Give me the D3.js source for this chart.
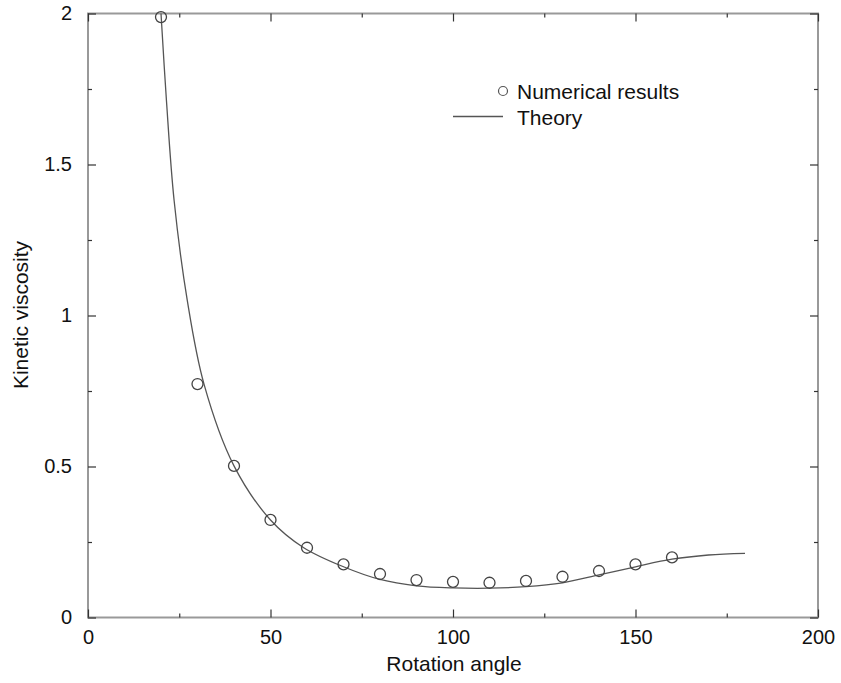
<!DOCTYPE html>
<html>
<head>
<meta charset="utf-8">
<script src="https://cdn.jsdelivr.net/npm/d3@7"></script>
<style>
  body { margin: 0; background: #fff; }
  svg text { font-family: "Liberation Sans", Arial, Helvetica, sans-serif; fill: #111; }
</style>
</head>
<body>
<svg id="chart" width="841" height="683"></svg>
<script>
// numerical results (circles)
const numAngle = [20, 30, 40, 50, 60, 70, 80, 90, 100, 110, 120, 130, 140, 150, 160];
const numVisc  = [1.988, 0.773, 0.502, 0.323, 0.231, 0.176, 0.144, 0.124, 0.118, 0.115, 0.121, 0.135, 0.154, 0.176, 0.199];

// theory curve
const theoryAngle = [20, 21.5, 23.6, 27.2, 31.8, 40, 50, 59, 70, 80, 90, 100, 110, 120, 130, 140, 150, 160, 170, 180];
const theoryVisc  = [2.0, 1.71, 1.38, 1.05, 0.772, 0.502, 0.323, 0.232, 0.168, 0.126, 0.105, 0.098, 0.097, 0.102, 0.115, 0.141, 0.168, 0.193, 0.207, 0.2125];

const xMajor = [0, 50, 100, 150, 200];
const xMinor = [25, 75, 125, 175];
const yMajor = [0, 0.5, 1, 1.5, 2];
const yMinor = [0.25, 0.75, 1.25, 1.75];

const legendLabels = ["Numerical results", "Theory"];

let svg = d3.select('#chart')

let x = d3.scaleLinear()
    .domain([0, 200])
    .range([88, 818])

let y = d3.scaleLinear()
    .domain([0, 2])
    .range([617.5, 13.5])

const fmt = d => d3.format('~g')(d)

function styleAxis(g, labels) {
	g.select('.domain').remove()
	g.selectAll('.tick line').attr('stroke', '#333').attr('stroke-width', 1.2)
	g.selectAll('.tick text').style('font-size', '20px')
	if (!labels) g.selectAll('.tick text').remove()
}

// frame
svg.append('rect')
	.attr('x', x(0))
	.attr('y', y(2))
	.attr('width', x(200) - x(0))
	.attr('height', y(0) - y(2))
	.attr('fill', 'none')
	.attr('stroke', '#999')
	.attr('stroke-width', 2)

// bottom
svg.append('g').attr('transform', `translate(0,${y(0)})`)
	.call(d3.axisBottom(x).tickValues(xMajor).tickSize(-8).tickPadding(12).tickFormat(fmt))
	.call(g => styleAxis(g, true))
svg.append('g').attr('transform', `translate(0,${y(0)})`)
	.call(d3.axisBottom(x).tickValues(xMinor).tickSize(-4))
	.call(g => styleAxis(g, false))
// top
svg.append('g').attr('transform', `translate(0,${y(2)})`)
	.call(d3.axisTop(x).tickValues(xMajor).tickSize(-8))
	.call(g => styleAxis(g, false))
svg.append('g').attr('transform', `translate(0,${y(2)})`)
	.call(d3.axisTop(x).tickValues(xMinor).tickSize(-4))
	.call(g => styleAxis(g, false))
// left
svg.append('g').attr('transform', `translate(${x(0)},0)`)
	.call(d3.axisLeft(y).tickValues(yMajor).tickSize(-8).tickPadding(16).tickFormat(fmt))
	.call(g => styleAxis(g, true))
svg.append('g').attr('transform', `translate(${x(0)},0)`)
	.call(d3.axisLeft(y).tickValues(yMinor).tickSize(-4))
	.call(g => styleAxis(g, false))
// right
svg.append('g').attr('transform', `translate(${x(200)},0)`)
	.call(d3.axisRight(y).tickValues(yMajor).tickSize(-8))
	.call(g => styleAxis(g, false))
svg.append('g').attr('transform', `translate(${x(200)},0)`)
	.call(d3.axisRight(y).tickValues(yMinor).tickSize(-4))
	.call(g => styleAxis(g, false))

// axis titles
svg.append('text')
	.attr('x', 454)
	.attr('y', 671)
	.attr('text-anchor', 'middle')
	.style('font-size', '21px')
	.text('Rotation angle')

svg.append('text')
	.attr('transform', 'translate(28,315) rotate(-90)')
	.attr('text-anchor', 'middle')
	.style('font-size', '21px')
	.text('Kinetic viscosity')

// theory line
let theory = theoryAngle.map((a, i) => ({angle: a, value: theoryVisc[i]}))
let line = d3.line()
	.x(d => x(d.angle))
	.y(d => y(d.value))
	.curve(d3.curveCatmullRom.alpha(0.5))

svg.append('path')
	.datum(theory)
	.attr('fill', 'none')
	.attr('stroke', '#555')
	.attr('stroke-width', 1.3)
	.attr('d', line)

// numerical circles
let nums = numAngle.map((a, i) => ({angle: a, value: numVisc[i]}))
svg.append('g').selectAll('circle')
	.data(nums)
	.enter().append('circle')
	.attr('cx', d => x(d.angle))
	.attr('cy', d => y(d.value))
	.attr('r', 5.5)
	.attr('fill', 'none')
	.attr('stroke', '#444')
	.attr('stroke-width', 1.3)

// legend
let legend = svg.append('g')
legend.append('circle')
	.attr('cx', 503).attr('cy', 91).attr('r', 4.5)
	.attr('fill', 'none').attr('stroke', '#555').attr('stroke-width', 1.2)
legend.append('text')
	.attr('x', 517).attr('y', 98.5)
	.style('font-size', '21px')
	.text(legendLabels[0])
legend.append('line')
	.attr('x1', 453).attr('x2', 503).attr('y1', 116.5).attr('y2', 116.5)
	.attr('stroke', '#555').attr('stroke-width', 1.3)
legend.append('text')
	.attr('x', 517).attr('y', 125)
	.style('font-size', '21px')
	.text(legendLabels[1])
</script>
</body>
</html>
